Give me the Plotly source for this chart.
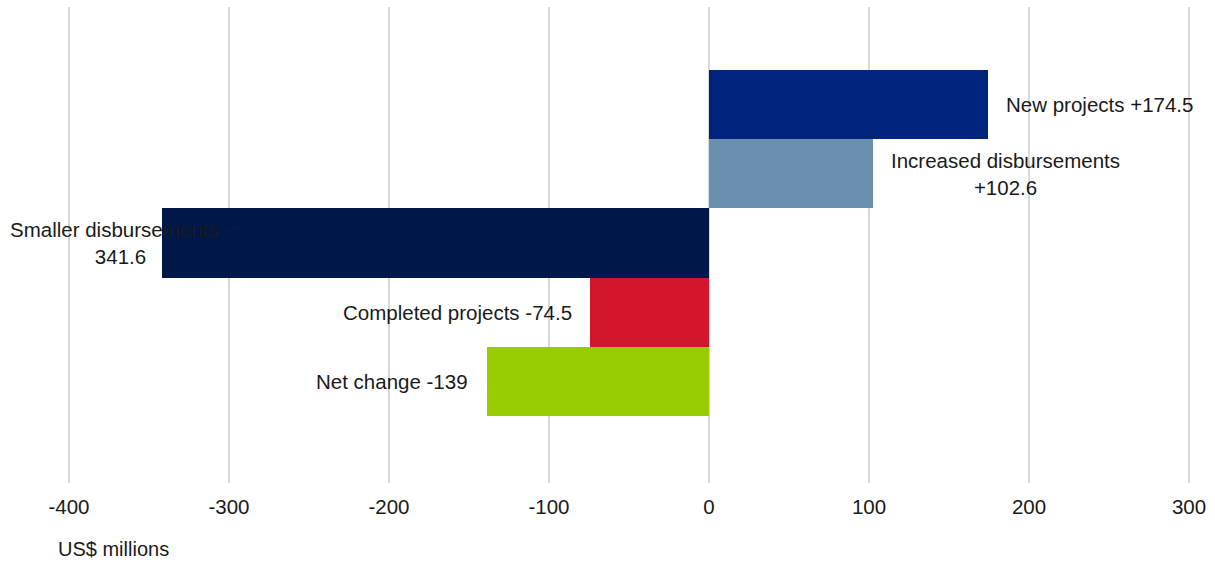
import plotly.graph_objects as go

# Contributions to the change in disbursements (US$ millions)
categories = ["New projects", "Increased disbursements", "Smaller disbursements",
              "Completed projects", "Net change"]
values = [174.5, 102.6, -341.6, -74.5, -139]
label_texts = ["New projects +174.5", "Increased disbursements<br>+102.6",
               "Smaller disbursements -<br>341.6", "Completed projects -74.5",
               "Net change -139"]
bar_colors = ["#00247D", "#6A8FAF", "#00174A", "#D2162E", "#99CC00"]
x_ticks = [-400, -300, -200, -100, 0, 100, 200, 300]

FONT = "Liberation Sans, Arial, sans-serif"
TEXT_COLOR = "#1a1a1a"

fig = go.Figure(
    go.Bar(
        x=values,
        y=categories,
        orientation="h",
        marker=dict(color=bar_colors, line=dict(width=0)),
        width=1,
        hoverinfo="skip",
    )
)

# label anchoring per bar: side of the bar end and pixel offset
anchors = ["left", "left", "center", "right", "right"]
shifts = [16, 16, -42, -16, -17]
for cat, val, txt, anc, sh in zip(categories, values, label_texts, anchors, shifts):
    fig.add_annotation(
        x=val, y=cat, text=txt, showarrow=False,
        xanchor=anc, yanchor="middle", align="center", xshift=sh,
        font=dict(family=FONT, size=20.5, color=TEXT_COLOR),
    )

fig.add_annotation(
    xref="paper", yref="paper", x=-0.0098, y=-0.1387,
    text="US$ millions", showarrow=False, xanchor="left", yanchor="middle",
    font=dict(family=FONT, size=20, color=TEXT_COLOR),
)

fig.update_xaxes(
    range=[-401.25, 301.25], tickvals=x_ticks, ticktext=[str(v) for v in x_ticks],
    showgrid=True, gridcolor="#d9d9d9", gridwidth=2,
    zeroline=False, showline=False, ticks="",
    ticklabelstandoff=9,
    tickfont=dict(family=FONT, size=20.5, color=TEXT_COLOR),
)
fig.update_yaxes(
    type="category", range=[5.47, -1.41], showticklabels=False,
    showgrid=False, zeroline=False, showline=False,
)

fig.update_layout(
    width=1215, height=562,
    margin=dict(l=67, r=24, t=7, b=79),
    paper_bgcolor="white", plot_bgcolor="white",
    bargap=0, showlegend=False,
)

fig.write_html("out.html")
